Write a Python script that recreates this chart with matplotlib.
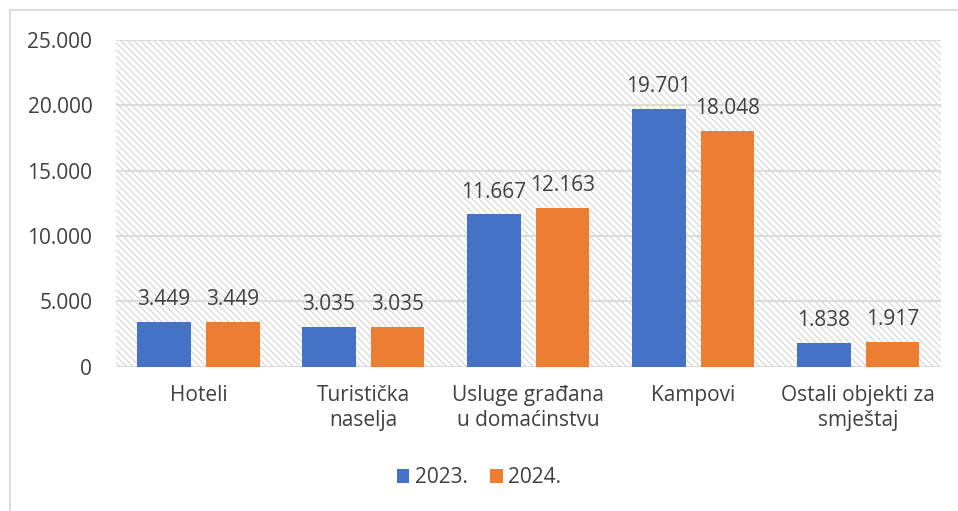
import numpy as np
import matplotlib.pyplot as plt
from matplotlib.patches import Rectangle
from matplotlib.lines import Line2D

categories = ['Hoteli', 'Turistička\nnaselja', 'Usluge građana\nu domaćinstvu', 'Kampovi', 'Ostali objekti za\nsmještaj']
v2023 = [3449, 3035, 11667, 19701, 1838]
v2024 = [3449, 3035, 12163, 18048, 1917]
series_names = ['2023.', '2024.']
yticks = [0, 5000, 10000, 15000, 20000, 25000]

plt.rcParams['font.family'] = ['Open Sans', 'DejaVu Sans']
plt.rcParams['hatch.color'] = '#d4d4d4'
plt.rcParams['hatch.linewidth'] = 0.8
txt = '#404040'
fs = 15

fig = plt.figure(figsize=(9.58, 5.11), dpi=100)
ax = fig.add_axes([0.121, 0.282, 0.861, 0.640])

x = np.arange(len(categories))
w = 0.325
off = 0.208

# hatched plot area
ax.add_patch(Rectangle((0, 0), 1, 1, transform=ax.transAxes, facecolor='white',
                       edgecolor='#d4d4d4', hatch='\\' * 5, linewidth=0, zorder=0))
for t in yticks:
    ax.axhline(t, color='#d9d9d9', linewidth=1.3, zorder=1)

b1 = ax.bar(x - off, v2023, w, color='#4472C4', zorder=3, label=series_names[0])
b2 = ax.bar(x + off, v2024, w, color='#ED7D31', zorder=3, label=series_names[1])

def fmt(v):
    return f'{v:,}'.replace(',', '.')

for bars, vals in ((b1, v2023), (b2, v2024)):
    for r, v in zip(bars, vals):
        ax.text(r.get_x() + r.get_width() / 2, v + 900, fmt(v), ha='center', va='bottom',
                fontsize=fs, color=txt, zorder=4)

ax.set_xlim(-0.5, len(categories) - 0.5)
ax.set_ylim(0, 25000)
ax.set_yticks(yticks)
ax.set_yticklabels([fmt(t) for t in yticks], fontsize=fs, color=txt)
ax.set_xticks(x)
ax.set_xticklabels(categories, fontsize=fs, color=txt, linespacing=1.25)
ax.tick_params(axis='y', length=0, pad=17)
ax.tick_params(axis='x', length=0, pad=13)
for s in ax.spines.values():
    s.set_visible(False)

fig.legend(handles=[b1, b2], labels=series_names, loc='center', bbox_to_anchor=(0.5, 0.065),
           ncol=2, frameon=False, fontsize=fs, handlelength=0.6, handleheight=0.6,
           handletextpad=0.25, columnspacing=1.1, labelcolor=txt)

# chart area border (left and top only visible)
fig.add_artist(Line2D([0.0105, 0.0105], [0, 0.981], transform=fig.transFigure,
                      color='#d9d9d9', linewidth=1.3))
fig.add_artist(Line2D([0.0105, 1.0], [0.981, 0.981], transform=fig.transFigure,
                      color='#d9d9d9', linewidth=1.3))

fig.savefig('out.png', dpi=100)
